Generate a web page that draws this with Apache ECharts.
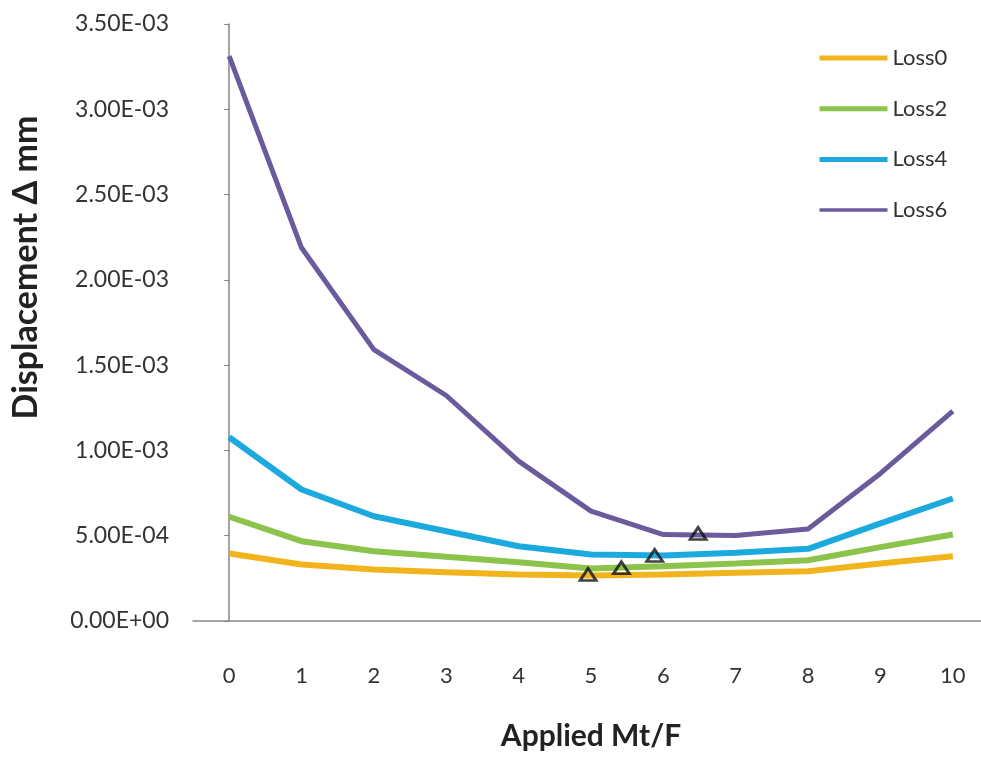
<!DOCTYPE html>
<html>
<head>
<meta charset="utf-8">
<script src="https://cdn.jsdelivr.net/npm/echarts@6/dist/echarts.min.js"></script>
<style>
html,body{margin:0;padding:0;background:#fff;}
#chart{width:981px;height:760px;}
</style>
</head>
<body>
<div id="chart"></div>
<script>
const categories = ['0','1','2','3','4','5','6','7','8','9','10'];
const seriesNames = ['Loss0','Loss2','Loss4','Loss6'];
const loss0 = [0.000396,0.000331,0.000302,0.000286,0.000273,0.000267,0.000273,0.000283,0.000292,0.000337,0.000380];
const loss2 = [0.000611,0.000468,0.000409,0.000376,0.000345,0.000308,0.000321,0.000337,0.000356,0.000433,0.000507];
const loss4 = [0.001077,0.000771,0.000614,0.000526,0.000438,0.000390,0.000384,0.000400,0.000423,0.000572,0.000718];
const loss6 = [0.003311,0.002188,0.001591,0.001322,0.000937,0.000644,0.000507,0.000501,0.000540,0.000865,0.001230];
const minimaX = [4.96,5.42,5.88,6.48];
const minimaY = [0.000273,0.000312,0.000384,0.000513];
const yTickLabels = ['0.00E+00','5.00E-04','1.00E-03','1.50E-03','2.00E-03','2.50E-03','3.00E-03','3.50E-03'];
const colors = ['#F2B41C','#8CC34B','#1BA9DE','#6B5A9C'];
const widths = [6,6,6,5];
const legendWidths = [5,5,5,3.5];

const chart = echarts.init(document.getElementById('chart'), null, {renderer:'canvas'});
const lineData = [loss0, loss2, loss4, loss6];
const series = lineData.map((d,i)=>({
  name: seriesNames[i],
  type: 'line',
  data: d,
  symbol: 'none',
  smooth: false,
  lineStyle: {color: colors[i], width: widths[i]},
  itemStyle: {color: colors[i]},
  z: 2 + i
}));
series.push({
  name: 'minima',
  type: 'scatter',
  xAxisIndex: 1,
  data: minimaX.map((x,i)=>[x, minimaY[i]]),
  symbol: 'triangle',
  symbolSize: [16, 12],
  itemStyle: {color: 'rgba(255,255,255,0)', borderColor: '#111', borderWidth: 2.8},
  z: 10
});

chart.setOption({
  animation: false,
  backgroundColor: '#fff',
  textStyle: {fontFamily: 'Lato, "Open Sans", sans-serif'},
  grid: {left: 193, width: 796, top: 24, bottom: 139, containLabel: false, outerBoundsMode: 'none'},
  legend: {
    data: seriesNames.map((n,i)=>({
      name: n,
      itemStyle: {opacity: 0, borderWidth: 0},
      lineStyle: {width: legendWidths[i], color: colors[i]}
    })),
    orient: 'vertical',
    left: 812,
    top: 42,
    itemWidth: 68,
    itemHeight: 14,
    itemGap: 28.7,
    textStyle: {fontSize: 22, color: '#333333', fontFamily: 'Lato', lineHeight: 22}
  },
  xAxis: [{
    type: 'category',
    data: categories,
    boundaryGap: true,
    name: 'Applied Mt/F',
    nameLocation: 'middle',
    nameGap: 100,
    nameTextStyle: {fontSize: 30, fontWeight: 'bold', color: '#222222', fontFamily: 'Lato'},
    axisLine: {show: true, lineStyle: {color: '#868686', width: 1.5}},
    axisTick: {show: false},
    axisLabel: {fontSize: 22, color: '#333333', margin: 44, fontFamily: 'Lato'},
    splitLine: {show: false}
  },{
    type: 'value',
    min: -0.5,
    max: 10.5,
    show: false
  }],
  yAxis: {
    type: 'value',
    min: 0,
    max: 0.0035,
    interval: 0.0005,
    name: 'Displacement Δ mm',
    nameLocation: 'middle',
    nameGap: 150,
    nameTextStyle: {fontSize: 34, fontWeight: 'bold', color: '#222222', fontFamily: 'Lato', padding: [0,0,0,110]},
    axisLine: {show: true, lineStyle: {color: '#868686', width: 1.5}},
    axisTick: {show: true, inside: false, length: 5, lineStyle: {color: '#868686'}},
    axisLabel: {
      fontSize: 23, color: '#333333', margin: 24, fontFamily: 'Lato',
      formatter: function(v){ return yTickLabels[Math.round(v/0.0005)]; }
    },
    splitLine: {show: false}
  },
  series: series
});
</script>
</body>
</html>
